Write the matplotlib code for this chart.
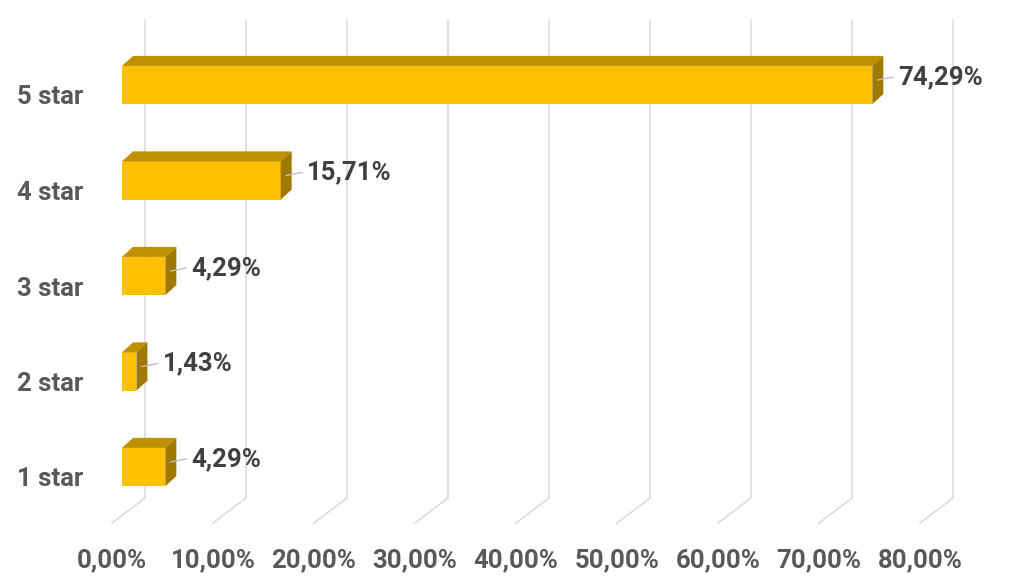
import matplotlib
matplotlib.use("Agg")
import matplotlib.pyplot as plt
from matplotlib.patches import Polygon, Rectangle
from matplotlib.transforms import ScaledTranslation

categories = ["1 star", "2 star", "3 star", "4 star", "5 star"]
values = [4.29, 1.43, 4.29, 15.71, 74.29]
value_labels = ["4,29%", "1,43%", "4,29%", "15,71%", "74,29%"]
x_ticks = [0, 10, 20, 30, 40, 50, 60, 70, 80]
x_tick_labels = ["0,00%", "10,00%", "20,00%", "30,00%", "40,00%",
                 "50,00%", "60,00%", "70,00%", "80,00%"]

W, H, DPI = 1024, 588, 100
fig = plt.figure(figsize=(W / DPI, H / DPI), dpi=DPI)
fig.patch.set_facecolor("white")

# plot area (front plane of bars) in pixels
px_per_x = 10.1      # pixels per percent
px_per_cat = 95.5    # pixels per category
x0_px = 122
y_center0 = 467      # pixel (from top) of the first category centre
left = x0_px / W
width = 80 * px_per_x / W
top_px = y_center0 - px_per_cat * 4.5
bot_px = y_center0 + px_per_cat * 0.5
ax = fig.add_axes([left, 1 - bot_px / H, width, (bot_px - top_px) / H])
ax.set_xlim(0, 80)
ax.set_ylim(-0.5, 4.5)
ax.axis("on")
for s in ax.spines.values():
    s.set_visible(False)
ax.set_facecolor("none")

def dx(p):
    return p / px_per_x

def dy(p):
    return p / px_per_cat

font = "Roboto"
grid_col = "#D9D9D9"

# gridlines: back wall + floor slant
back_dx = dx(23)
grid_top = 4.5 + dy(top_px - 20)
grid_bot = -0.5 - dy(498 - bot_px)
for t in x_ticks:
    xb = t + back_dx
    ax.plot([xb, xb], [grid_bot, grid_top], color=grid_col, lw=1.1,
            clip_on=False, zorder=1)
    ax.plot([xb, xb - dx(33)], [grid_bot, grid_bot - dy(25)], color=grid_col,
            lw=1.1, clip_on=False, zorder=1)

# bars
h = 0.4
ddx, ddy = dx(11), dy(10)
front_c, top_c, side_c = "#FFC000", "#BF9000", "#A07A00"
for i, v in enumerate(values):
    yb, yt = i - h / 2, i + h / 2
    ax.add_patch(Rectangle((0, yb), v, h, facecolor=front_c, edgecolor="none",
                           zorder=3, clip_on=False))
    ax.add_patch(Polygon([(0, yt), (v, yt), (v + ddx, yt + ddy), (ddx, yt + ddy)],
                         closed=True, facecolor=top_c, edgecolor="none",
                         zorder=3, clip_on=False))
    ax.add_patch(Polygon([(v, yb), (v, yt), (v + ddx, yt + ddy), (v + ddx, yb + ddy)],
                         closed=True, facecolor=side_c, edgecolor="none",
                         zorder=3, clip_on=False))
    # leader line and label
    lx0, ly0 = v + ddx / 2, i + ddy / 2
    lx1, ly1 = v + dx(21), i + dy(8)
    ax.plot([lx0, lx1], [ly0, ly1], color="#BFBFBF", lw=1, zorder=4, clip_on=False)
    ax.text(v + dx(26), i + dy(8), value_labels[i], ha="left", va="center",
            fontsize=18.5, fontweight="bold", color="#404040", family=font,
            zorder=5, clip_on=False)

# ticks
ax.set_yticks(range(len(categories)))
ax.set_yticklabels(categories, fontsize=18.5, fontweight="bold",
                   color="#595959", family=font)
ax.tick_params(axis="y", length=0, pad=28)
ax.set_xticks(x_ticks)
ax.set_xticklabels(x_tick_labels, fontsize=18.5, fontweight="bold",
                   color="#595959", family=font)
ax.tick_params(axis="x", length=0, pad=24)

off_y = ScaledTranslation(0, -10 / DPI, fig.dpi_scale_trans)
for lab in ax.get_yticklabels():
    lab.set_transform(lab.get_transform() + off_y)
off_x = ScaledTranslation(-10 / DPI, 0, fig.dpi_scale_trans)
for lab in ax.get_xticklabels():
    lab.set_transform(lab.get_transform() + off_x)

fig.savefig("out.png", dpi=DPI, facecolor="white")
